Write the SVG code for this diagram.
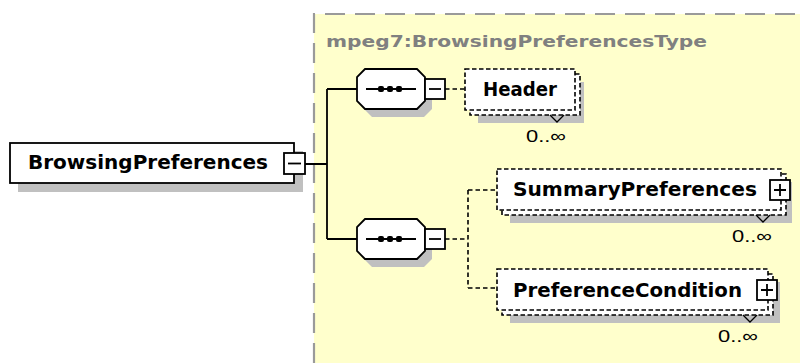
<svg xmlns="http://www.w3.org/2000/svg" width="800" height="363" viewBox="0 0 800 363">
<style>
.lbl{font-family:"DejaVu Sans","Liberation Sans",sans-serif;font-weight:bold;font-size:19px;fill:#000}
.occ{font-family:"Liberation Sans","DejaVu Sans",sans-serif;font-size:17px;fill:#000}
.ttl{font-family:"DejaVu Sans","Liberation Sans",sans-serif;font-weight:bold;font-size:16px;fill:#808080}
.shadow{fill:#c0c0c0;stroke:none}
.solid{fill:#fff;stroke:#000;stroke-width:1.8}
.dbox{fill:#fff;stroke:#000;stroke-width:1.6;stroke-dasharray:4.5,2.5}
.sline{fill:none;stroke:#000;stroke-width:1.8}
.dline{fill:none;stroke:#000;stroke-width:1.6;stroke-dasharray:4.5,3}
.tick{fill:none;stroke:#000;stroke-width:1.3}
</style>
<rect x="314" y="14" width="500" height="360" fill="#ffffcc"/>
<path d="M314,363 V14 H800" fill="none" stroke="#9a9a9a" stroke-width="2.2" stroke-dasharray="20,10"/>
<text class="ttl" x="326" y="47" textLength="381" lengthAdjust="spacingAndGlyphs">mpeg7:BrowsingPreferencesType</text>

<g id="connectors">
<path class="sline" d="M305,164 H327 M327,89 V239 M327,89 H357 M327,239 H357"/>
<path class="dline" d="M445,89 H465"/>
<path class="dline" d="M445,239 H468 M468,190 V288 M468,190 H497 M468,288 H497"/>
</g>

<g id="BrowsingPreferences">
<rect class="shadow" x="18" y="151" width="285" height="41"/>
<rect class="solid" x="10" y="143" width="284" height="40"/>
<text class="lbl" x="28" y="169" textLength="240" lengthAdjust="spacingAndGlyphs">BrowsingPreferences</text>
<rect class="solid" x="284" y="153" width="21" height="21"/>
<path class="sline" d="M288,163.5 H301"/>
</g>

<g id="seq1">
<polygon class="shadow" points="372,77 424,77 432,85 432,109 424,117 372,117 364,109 364,85"/>
<polygon class="solid" points="365,69 417,69 425,77 425,101 417,109 365,109 357,101 357,77"/>
<path class="sline" d="M366,89 H416"/>
<rect x="378" y="86" width="6" height="6" rx="2"/><rect x="387" y="86" width="6" height="6" rx="2"/><rect x="396" y="86" width="6" height="6" rx="2"/>
<rect class="solid" x="425" y="79" width="20" height="20"/>
<path class="sline" d="M429,89 H441"/>
</g>

<g id="seq2">
<polygon class="shadow" points="372,227 424,227 432,235 432,259 424,267 372,267 364,259 364,235"/>
<polygon class="solid" points="365,219 417,219 425,227 425,251 417,259 365,259 357,251 357,227"/>
<path class="sline" d="M366,239 H416"/>
<rect x="378" y="236" width="6" height="6" rx="2"/><rect x="387" y="236" width="6" height="6" rx="2"/><rect x="396" y="236" width="6" height="6" rx="2"/>
<rect class="solid" x="425" y="229" width="20" height="20"/>
<path class="sline" d="M429,239 H441"/>
</g>

<g id="Header">
<rect class="shadow" x="478" y="82" width="106" height="41"/>
<rect class="dbox" x="470" y="74" width="110" height="41"/>
<rect class="dbox" x="465" y="69" width="110" height="41"/>
<text class="lbl" x="483" y="96" textLength="74" lengthAdjust="spacingAndGlyphs">Header</text>
<polyline class="tick" points="550,115 557,122 564,115"/>
<text class="occ" x="566" y="142" text-anchor="end" textLength="40" lengthAdjust="spacingAndGlyphs">0..∞</text>
</g>

<g id="SummaryPreferences">
<rect class="shadow" x="510" y="182" width="282" height="41"/>
<rect class="dbox" x="502" y="174" width="284" height="41"/>
<rect class="dbox" x="497" y="169" width="284" height="41"/>
<text class="lbl" x="513" y="196" textLength="244" lengthAdjust="spacingAndGlyphs">SummaryPreferences</text>
<rect class="solid" x="770" y="180" width="20" height="20"/>
<path class="sline" d="M774,190 H786 M780,184 V196"/>
<polyline class="tick" points="756,215 763,222 770,215"/>
<text class="occ" x="772" y="242" text-anchor="end" textLength="40" lengthAdjust="spacingAndGlyphs">0..∞</text>
</g>

<g id="PreferenceCondition">
<rect class="shadow" x="510" y="282" width="270" height="41"/>
<rect class="dbox" x="502" y="274" width="271" height="41"/>
<rect class="dbox" x="497" y="269" width="271" height="41"/>
<text class="lbl" x="513" y="297" textLength="229" lengthAdjust="spacingAndGlyphs">PreferenceCondition</text>
<rect class="solid" x="757" y="280" width="20" height="20"/>
<path class="sline" d="M761,290 H773 M767,284 V296"/>
<polyline class="tick" points="743,315 750,322 757,315"/>
<text class="occ" x="758" y="342" text-anchor="end" textLength="40" lengthAdjust="spacingAndGlyphs">0..∞</text>
</g>
</svg>
